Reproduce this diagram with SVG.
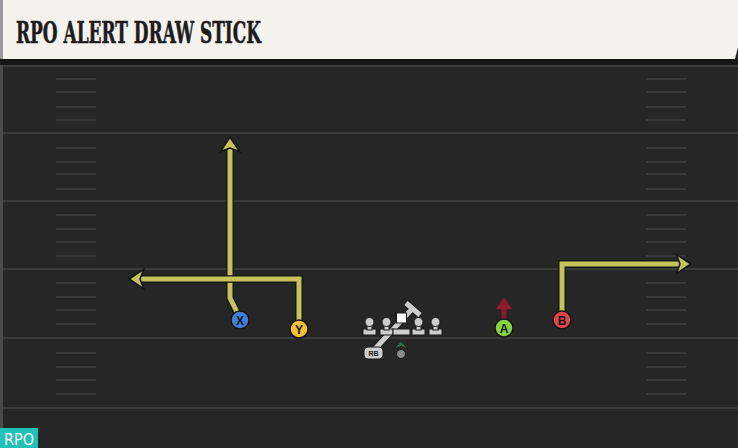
<svg xmlns="http://www.w3.org/2000/svg" width="738" height="448" viewBox="0 0 738 448">
<style>
.yard{stroke:#3b3b3b;stroke-width:2}
.hash{stroke:#393939;stroke-width:2}
.rtO{fill:none;stroke:#151515;stroke-width:7.5;stroke-linejoin:miter}
.rt{fill:none;stroke:#c6c35a;stroke-width:5;stroke-linejoin:miter}
.pl{stroke:#151515;stroke-width:1.5}
.lt{font-family:"Liberation Sans",Arial,sans-serif;font-weight:bold;font-size:12px;fill:#151515;text-anchor:middle}
.ol{fill:#cdcdcd;stroke:#1a1a1a;stroke-width:1}
</style>
<defs>
<marker id="ah" markerUnits="userSpaceOnUse" markerWidth="24" markerHeight="24" viewBox="-2 -10 18 20" refX="3" refY="0" orient="auto">
<path d="M0,-8 L12,0 L0,8 L3,0 Z" fill="#c6c35a" stroke="#151515" stroke-width="1.3" stroke-linejoin="miter"/>
</marker>
<marker id="ahr" markerUnits="userSpaceOnUse" markerWidth="24" markerHeight="24" viewBox="-2 -10 16 20" refX="1" refY="0" orient="auto">
<path d="M0,-7 L10,0 L0,7 Z" fill="#8e1b2c"/>
</marker>
</defs>
<rect width="738" height="448" fill="#262626"/>
<rect x="0" y="0" width="3" height="448" fill="#4a4a4a"/>
<g id="field">
<line class="yard" x1="3" y1="66" x2="738" y2="66"/>
<line class="yard" x1="3" y1="133" x2="738" y2="133"/>
<line class="yard" x1="3" y1="201" x2="738" y2="201"/>
<line class="yard" x1="3" y1="269" x2="738" y2="269"/>
<line class="yard" x1="3" y1="338" x2="738" y2="338"/>
<line class="yard" x1="3" y1="408" x2="738" y2="408"/>
<g id="hash-left">
<line class="hash" x1="56" y1="79" x2="96" y2="79"/><line class="hash" x1="56" y1="92" x2="96" y2="92"/><line class="hash" x1="56" y1="107" x2="96" y2="107"/><line class="hash" x1="56" y1="120" x2="96" y2="120"/>
<line class="hash" x1="56" y1="148" x2="96" y2="148"/><line class="hash" x1="56" y1="162" x2="96" y2="162"/><line class="hash" x1="56" y1="174" x2="96" y2="174"/><line class="hash" x1="56" y1="189" x2="96" y2="189"/>
<line class="hash" x1="56" y1="215" x2="96" y2="215"/><line class="hash" x1="56" y1="229" x2="96" y2="229"/><line class="hash" x1="56" y1="242" x2="96" y2="242"/><line class="hash" x1="56" y1="256" x2="96" y2="256"/>
<line class="hash" x1="56" y1="283" x2="96" y2="283"/><line class="hash" x1="56" y1="297" x2="96" y2="297"/><line class="hash" x1="56" y1="310" x2="96" y2="310"/><line class="hash" x1="56" y1="324" x2="96" y2="324"/>
<line class="hash" x1="56" y1="353" x2="96" y2="353"/><line class="hash" x1="56" y1="367" x2="96" y2="367"/><line class="hash" x1="56" y1="380" x2="96" y2="380"/><line class="hash" x1="56" y1="394" x2="96" y2="394"/>
</g>
<g id="hash-right">
<line class="hash" x1="646" y1="79" x2="686" y2="79"/><line class="hash" x1="646" y1="92" x2="686" y2="92"/><line class="hash" x1="646" y1="107" x2="686" y2="107"/><line class="hash" x1="646" y1="120" x2="686" y2="120"/>
<line class="hash" x1="646" y1="148" x2="686" y2="148"/><line class="hash" x1="646" y1="162" x2="686" y2="162"/><line class="hash" x1="646" y1="174" x2="686" y2="174"/><line class="hash" x1="646" y1="189" x2="686" y2="189"/>
<line class="hash" x1="646" y1="215" x2="686" y2="215"/><line class="hash" x1="646" y1="229" x2="686" y2="229"/><line class="hash" x1="646" y1="242" x2="686" y2="242"/><line class="hash" x1="646" y1="256" x2="686" y2="256"/>
<line class="hash" x1="646" y1="283" x2="686" y2="283"/><line class="hash" x1="646" y1="297" x2="686" y2="297"/><line class="hash" x1="646" y1="310" x2="686" y2="310"/><line class="hash" x1="646" y1="324" x2="686" y2="324"/>
<line class="hash" x1="646" y1="353" x2="686" y2="353"/><line class="hash" x1="646" y1="367" x2="686" y2="367"/><line class="hash" x1="646" y1="380" x2="686" y2="380"/><line class="hash" x1="646" y1="394" x2="686" y2="394"/>
</g>
</g>
<g id="title">
<rect x="0" y="59" width="738" height="6" fill="#161616"/>
<polygon points="3,0 738,0 738,47 735,59 3,59" fill="#f4f2ec"/>
<rect x="0" y="0" width="3" height="59" fill="#9a9a9a"/>
<text x="16" y="43" font-family="'DejaVu Serif',serif" font-weight="bold" font-size="30" textLength="245" lengthAdjust="spacingAndGlyphs" fill="#1c1c1c" stroke="#1c1c1c" stroke-width="0.6">RPO ALERT DRAW STICK</text>
</g>
<g id="connectors">
<path class="rtO" d="M240,318 L230,298 L230,148"/>
<path class="rt" d="M240,318 L230,298 L230,148" marker-end="url(#ah)"/>
<path class="rtO" d="M299,326 L299,279 L140,279"/>
<path class="rt" d="M299,326 L299,279 L140,279" marker-end="url(#ah)"/>
<path class="rtO" d="M562,318 L562,264 L680,264"/>
<path class="rt" d="M562,318 L562,264 L680,264" marker-end="url(#ah)"/>
<path d="M504,321 L504,308" stroke="#8e1b2c" stroke-width="5" fill="none" marker-end="url(#ahr)"/>
<path d="M373,351 L413,308" stroke="#1a1a1a" stroke-width="7" fill="none"/>
<path d="M406,303 L420,315" stroke="#1a1a1a" stroke-width="7" fill="none"/>
<path d="M373,351 L413,308" stroke="#cdcdcd" stroke-width="5" fill="none"/>
<path d="M406,303 L420,315" stroke="#cdcdcd" stroke-width="5" fill="none"/>
</g>
<g id="X"><circle class="pl" cx="240" cy="320" r="9" fill="#3f7fd8"/><text class="lt" x="240" y="324.5">X</text></g>
<g id="Y"><circle class="pl" cx="299" cy="329" r="9" fill="#f3c22f"/><text class="lt" x="299" y="333.5">Y</text></g>
<g id="A"><circle class="pl" cx="504" cy="328" r="9" fill="#82d43c"/><text class="lt" x="504" y="332.5">A</text></g>
<g id="B"><circle class="pl" cx="562" cy="320" r="9" fill="#e2434c"/><text class="lt" x="562" y="324.5">B</text></g>
<g id="LT"><rect class="ol" x="363" y="329" width="13" height="6"/><rect class="ol" x="367" y="322" width="5" height="8"/><circle class="ol" cx="369.5" cy="322" r="4.5"/></g>
<g id="LG"><rect class="ol" x="380" y="329" width="13" height="6"/><rect class="ol" x="384" y="322" width="5" height="8"/><circle class="ol" cx="386.5" cy="322" r="4.5"/></g>
<g id="C"><rect class="ol" x="393" y="329" width="17" height="6"/><rect x="396.5" y="313" width="10" height="10" fill="#ffffff" stroke="#1a1a1a" stroke-width="1"/></g>
<g id="RG"><rect class="ol" x="412" y="329" width="13" height="6"/><rect class="ol" x="416" y="322" width="5" height="8"/><circle class="ol" cx="418.5" cy="322" r="4.5"/></g>
<g id="RT"><rect class="ol" x="429" y="329" width="13" height="6"/><rect class="ol" x="433" y="322" width="5" height="8"/><circle class="ol" cx="435.5" cy="322" r="4.5"/></g>
<g id="QB"><polygon points="401,341 408,349 401,346.5 394,349" fill="#2f6b4c" stroke="#1a1a1a" stroke-width="0.8"/><circle cx="401" cy="354" r="4.5" fill="#8a8a8a" stroke="#1a1a1a" stroke-width="1"/></g>
<g id="RB"><rect x="364" y="347" width="19" height="12" rx="4" fill="#cdcdcd" stroke="#1a1a1a" stroke-width="1"/><text x="373.5" y="356" font-family="'Liberation Sans',Arial,sans-serif" font-weight="bold" font-size="7" fill="#1a1a1a" text-anchor="middle">RB</text></g>
<g id="tag"><rect x="0" y="428" width="38" height="20" fill="#1fc2b5"/><text x="19" y="445" font-family="'DejaVu Sans',sans-serif" font-size="16" textLength="30" lengthAdjust="spacingAndGlyphs" fill="#ffffff" text-anchor="middle">RPO</text></g>
</svg>
